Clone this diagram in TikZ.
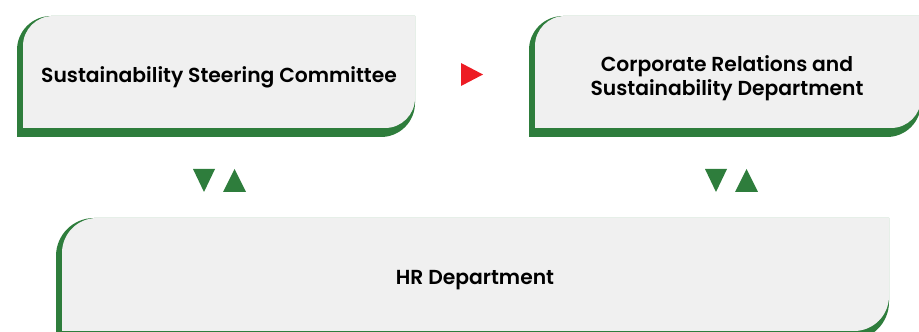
\documentclass[tikz,border=0pt]{standalone}
\usepackage{fontspec}
\setmainfont{Poppins}[BoldFont={Poppins SemiBold}]
\usetikzlibrary{calc}
\definecolor{leafgreen}{RGB}{46,125,60}
\definecolor{leafgray}{RGB}{240,240,240}
\definecolor{flowred}{RGB}{237,28,36}
% leaf-shaped panel: rounded top-left and bottom-right corners
% #1 style, #2 left, #3 top, #4 right, #5 bottom, #6 radius
\newcommand\leafpanel[6]{%
  \path[#1] ({#2},{#5}) -- ({#2},{#3-#6})
    arc[start angle=180,end angle=90,radius=#6pt] -- ({#4},{#3})
    -- ({#4},{#5+#6}) arc[start angle=0,end angle=-90,radius=#6pt] -- cycle;}
\tikzset{
  panelshadow/.style={fill=leafgreen},
  panelface/.style={fill=leafgray},
  label/.style={font=\bfseries\fontsize{20.3}{24}\selectfont, text=black, align=center},
  greentri/.style={fill=leafgreen},
  redtri/.style={fill=flowred}
}
\begin{document}
\begin{tikzpicture}[x=1pt,y=1pt]
\useasboundingbox (0,0) rectangle (919,332);
% top-left panel
\leafpanel{panelshadow}{17}{316}{415}{195}{34}
\leafpanel{panelface}{23}{316}{415}{204}{30}
\node[label] (ssc) at (219,255) {Sustainability Steering Committee};
% top-right panel
\leafpanel{panelshadow}{529}{316}{921}{195}{34}
\leafpanel{panelface}{535}{316}{921}{204}{30}
\node[label] (crs) at (727,254) {Corporate Relations and\\Sustainability Department};
% bottom panel
\leafpanel{panelshadow}{56}{114}{889}{-8}{38}
\leafpanel{panelface}{62}{114}{889}{1}{35}
\node[label] (hr) at (475,52) {HR Department};
% flow markers between panels
\coordinate (ab) at (472,257.5);
\coordinate (ahL) at (219,151.5);
\coordinate (ahR) at (731,151.5);
\fill[redtri] ($(ab)+(-11,11.5)$) -- ($(ab)+(11,0)$) -- ($(ab)+(-11,-11.5)$) -- cycle;
\foreach \c in {ahL,ahR}{
  \fill[greentri] ($(\c)+(-26,11.5)$) -- ($(\c)+(-4,11.5)$) -- ($(\c)+(-15,-11.5)$) -- cycle;
  \fill[greentri] ($(\c)+(4,-11.5)$) -- ($(\c)+(27,-11.5)$) -- ($(\c)+(15.5,11.5)$) -- cycle;
}
\end{tikzpicture}
\end{document}
